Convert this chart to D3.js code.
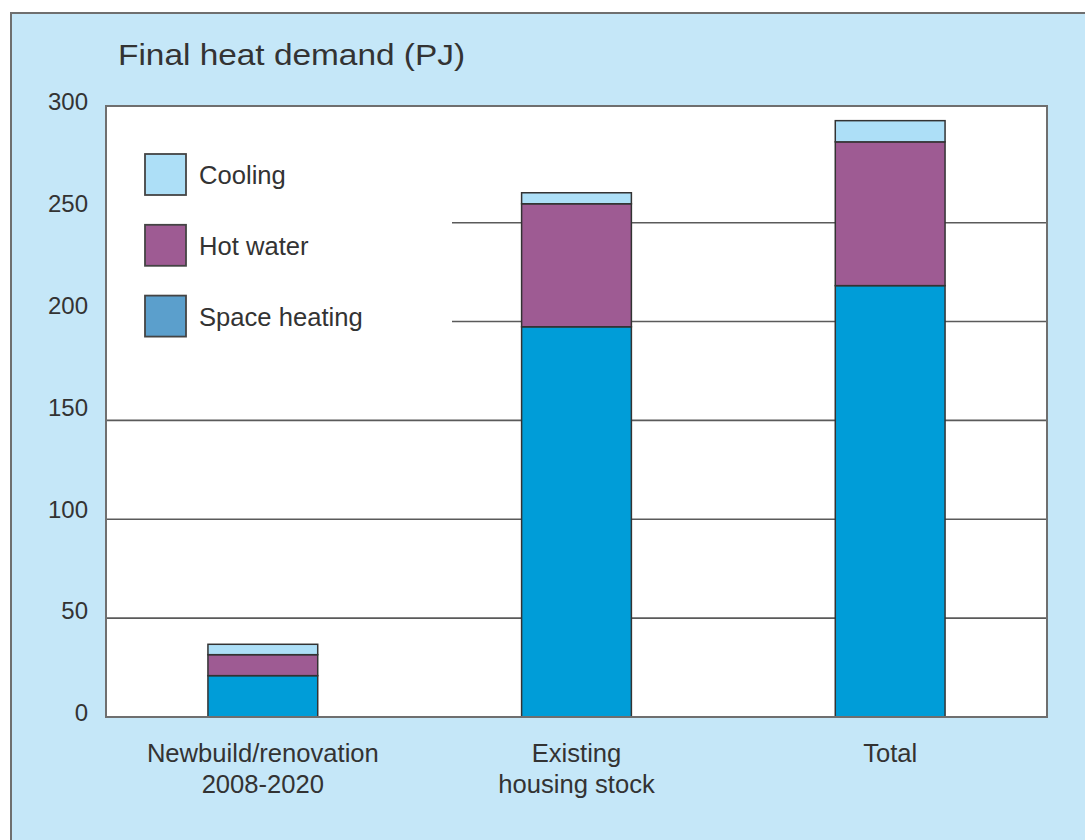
<!DOCTYPE html>
<html>
<head>
<meta charset="utf-8">
<script src="https://cdn.jsdelivr.net/npm/d3@7"></script>
<style>
  html, body { margin: 0; padding: 0; background: #ffffff; }
  svg { display: block; }
  text { font-family: "Liberation Sans", Arial, Helvetica, sans-serif; fill: #333333; }
</style>
</head>
<body>
<svg id="chart" width="1085" height="840"></svg>
<script>
// ---- Data ----
const categories = ["Newbuild/renovation\n2008-2020", "Existing\nhousing stock", "Total"];
const spaceHeating = [20.3, 191.6, 211.8];
const hotWater = [10.3, 60.4, 70.6];
const cooling = [5.1, 5.4, 10.4];
const seriesNames = ["Space heating", "Hot water", "Cooling"];
const yTicks = [0, 50, 100, 150, 200, 250, 300];
const gridValues = [50, 100, 150, 200, 250];
const legendOrder = ["Cooling", "Hot water", "Space heating"];
const title = "Final heat demand (PJ)";

// ---- Styles ----
const barColors = { "Space heating": "#009dd8", "Hot water": "#9e5b93", "Cooling": "#addff7" };
const legendColors = { "Space heating": "#5b9fcc", "Hot water": "#9e5b93", "Cooling": "#addff7" };

const svg = d3.select("#chart");
const W = 1085, H = 840;
const plot = { left: 106, right: 1047, top: 106, bottom: 717 };

// Outer panel
svg.append("rect").attr("x", 11).attr("y", 13).attr("width", W + 20).attr("height", H + 20)
  .attr("fill", "#c5e7f8").attr("stroke", "#6f6f6f").attr("stroke-width", 2);

// Plot area
svg.append("rect").attr("x", plot.left).attr("y", plot.top)
  .attr("width", plot.right - plot.left).attr("height", plot.bottom - plot.top)
  .attr("fill", "#ffffff");

// Scales
const x = d3.scaleBand().domain(categories).range([plot.left, plot.right])
  .paddingInner(0.65).paddingOuter(0.325);
const y = d3.scaleLinear().domain([0, 300]).range([plot.bottom, plot.top]);
// gridlines in the original sit on a slightly tighter spacing
const yGrid = d3.scaleLinear().domain([0, 250]).range([plot.bottom, 222.7]);

// Gridlines
svg.append("g").selectAll("line").data(gridValues).join("line")
  .attr("x1", d => d >= 200 ? 452 : plot.left)
  .attr("x2", plot.right)
  .attr("y1", d => yGrid(d)).attr("y2", d => yGrid(d))
  .attr("stroke", "#5a5a5a").attr("stroke-width", 1.6);

// Stack
const rows = categories.map((c, i) => ({
  cat: c, "Space heating": spaceHeating[i], "Hot water": hotWater[i], "Cooling": cooling[i]
}));
const stacked = d3.stack().keys(seriesNames)(rows);

svg.append("g").selectAll("g").data(stacked).join("g")
  .attr("fill", d => barColors[d.key])
  .selectAll("rect").data(d => d).join("rect")
  .attr("x", d => x(d.data.cat))
  .attr("width", x.bandwidth())
  .attr("y", d => y(d[1]))
  .attr("height", d => y(d[0]) - y(d[1]))
  .attr("stroke", "#333333").attr("stroke-width", 1.5);

// Plot frame
svg.append("rect").attr("x", plot.left).attr("y", plot.top)
  .attr("width", plot.right - plot.left).attr("height", plot.bottom - plot.top)
  .attr("fill", "none").attr("stroke", "#6f6f6f").attr("stroke-width", 2);

// Y tick labels
const yAxis = d3.axisLeft(y).tickValues(yTicks).tickSize(0).tickPadding(0);
const ya = svg.append("g").attr("transform", `translate(88,-4)`).call(yAxis);
ya.select(".domain").remove();
ya.selectAll("text").attr("font-size", 24).attr("fill", "#333333")
  .attr("font-family", "Liberation Sans, Arial, sans-serif");

// X category labels
const xl = svg.append("g").selectAll("text").data(categories).join("text")
  .attr("text-anchor", "middle")
  .attr("font-size", 25.6)
  .attr("x", d => x(d) + x.bandwidth() / 2)
  .attr("y", 761.5);
xl.each(function(d) {
  const parts = d.split("\n");
  d3.select(this).selectAll("tspan").data(parts).join("tspan")
    .attr("x", x(d) + x.bandwidth() / 2)
    .attr("dy", (p, i) => i === 0 ? 0 : 31.5)
    .text(p => p);
});

// Title
svg.append("text").attr("x", 118).attr("y", 65)
  .attr("font-size", 29.5)
  .attr("textLength", 347).attr("lengthAdjust", "spacingAndGlyphs")
  .text(title);

// Legend
const lg = svg.append("g").selectAll("g").data(legendOrder).join("g")
  .attr("transform", (d, i) => `translate(145,${154 + i * 70.8})`);
lg.append("rect").attr("width", 41).attr("height", 41)
  .attr("fill", d => legendColors[d]).attr("stroke", "#444444").attr("stroke-width", 1.8);
lg.append("text").attr("x", 54).attr("y", 30.2).attr("font-size", 25.6).text(d => d);
</script>
</body>
</html>
